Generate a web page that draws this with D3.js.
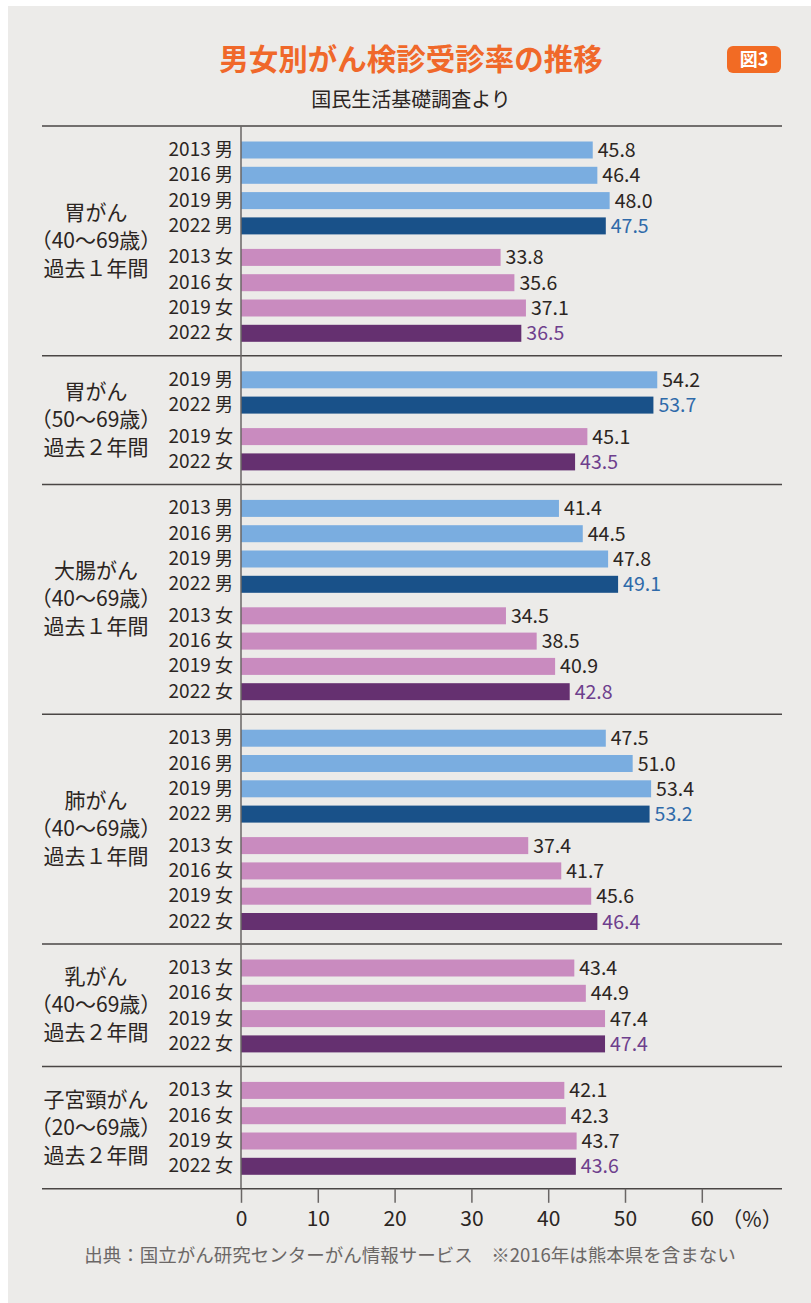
<!DOCTYPE html>
<html>
<head>
<meta charset="utf-8">
<script src="https://cdn.jsdelivr.net/npm/d3@7"></script>
<style>
  html, body { margin: 0; padding: 0; background: #fff; }
  svg { display: block; }
  text { font-family: "Noto Sans CJK JP", "Noto Sans", sans-serif; }
</style>
</head>
<body>
<div id="chart"></div>
<script>
(function() {
  // Data
  const groupNames = ["胃がん", "胃がん", "大腸がん", "肺がん", "乳がん", "子宮頸がん"];
  const groupAges = ["（40〜69歳）", "（50〜69歳）", "（40〜69歳）", "（40〜69歳）", "（40〜69歳）", "（20〜69歳）"];
  const groupPeriods = ["過去１年間", "過去２年間", "過去１年間", "過去１年間", "過去２年間", "過去２年間"];
  const groupYears = [
    [2013, 2016, 2019, 2022],
    [2019, 2022],
    [2013, 2016, 2019, 2022],
    [2013, 2016, 2019, 2022],
    [2013, 2016, 2019, 2022],
    [2013, 2016, 2019, 2022]
  ];
  const menValues = [
    [45.8, 46.4, 48.0, 47.5],
    [54.2, 53.7],
    [41.4, 44.5, 47.8, 49.1],
    [47.5, 51.0, 53.4, 53.2],
    [],
    []
  ];
  const womenValues = [
    [33.8, 35.6, 37.1, 36.5],
    [45.1, 43.5],
    [34.5, 38.5, 40.9, 42.8],
    [37.4, 41.7, 45.6, 46.4],
    [43.4, 44.9, 47.4, 47.4],
    [42.1, 42.3, 43.7, 43.6]
  ];
  const xTicks = [0, 10, 20, 30, 40, 50, 60];

  const width = 811;
  const height = 1303;
  const top = 126;
  const axisX0 = 241;
  const lineLeft = 42;
  const lineRight = 782;

  // layout in px units
  const padTop = 15.5, step = 25.3, barH = 17, sexStep = 31.5, padBottom = 14;

  const rows = [];
  const groups = [];
  let pos = 0;
  groupNames.forEach((name, gi) => {
    const start = pos;
    let cur = pos + padTop;
    let first = true;
    const addRows = (vals, sex) => {
      vals.forEach((v, i) => {
        if (!first) cur += (i === 0 ? sexStep : step);
        first = false;
        rows.push({
          y: cur, value: v, sex: sex,
          year: groupYears[gi][i],
          latest: groupYears[gi][i] === 2022
        });
      });
    };
    addRows(menValues[gi], "男");
    addRows(womenValues[gi], "女");
    pos = cur + barH + padBottom;
    groups.push({ start: start, end: pos, name: name, age: groupAges[gi], period: groupPeriods[gi] });
  });

  const y = d3.scaleLinear().domain([0, pos]).range([top, top + pos]);
  const x = d3.scaleLinear().domain([0, 60]).range([axisX0, axisX0 + 60 * 7.68]);
  const bottom = y(pos);

  const color = d => d.sex === "男"
    ? (d.latest ? "#195189" : "#7aade0")
    : (d.latest ? "#653070" : "#c98bbf");
  const labelColor = d => !d.latest ? "#2b2522" : (d.sex === "男" ? "#2f6aa9" : "#6e3f8d");

  const svg = d3.select("#chart").append("svg")
    .attr("width", width)
    .attr("height", height);

  // panel
  svg.append("rect")
    .attr("x", 8).attr("y", 6)
    .attr("width", width - 8).attr("height", height - 6)
    .attr("fill", "#ecebe9");

  // title
  svg.append("text")
    .attr("x", 411).attr("y", 70)
    .attr("text-anchor", "middle")
    .attr("font-size", "29.5px")
    .attr("font-weight", 700)
    .attr("fill", "#f0682a")
    .text("男女別がん検診受診率の推移");

  svg.append("rect")
    .attr("x", 727).attr("y", 46)
    .attr("width", 54).attr("height", 27)
    .attr("rx", 6)
    .attr("fill", "#f26b24");
  svg.append("text")
    .attr("x", 754).attr("y", 66)
    .attr("text-anchor", "middle")
    .attr("font-size", "18px")
    .attr("font-weight", 700)
    .attr("fill", "#fff")
    .text("図3");

  svg.append("text")
    .attr("x", 411).attr("y", 107)
    .attr("text-anchor", "middle")
    .attr("font-size", "20px")
    .attr("fill", "#2b2522")
    .text("国民生活基礎調査より");

  // separators
  svg.append("g")
    .selectAll("line")
    .data(groups)
    .join("line")
    .attr("x1", lineLeft).attr("x2", lineRight)
    .attr("y1", d => y(d.start)).attr("y2", d => y(d.start))
    .attr("stroke", "#4a4645")
    .attr("stroke-width", 1.5);

  // group labels
  svg.append("g")
    .selectAll("text")
    .data(groups)
    .join("text")
    .attr("text-anchor", "middle")
    .attr("font-size", "21px")
    .attr("fill", "#2b2522")
    .each(function(d) {
      const mid = (y(d.start) + y(d.end)) / 2;
      const t = d3.select(this);
      [d.name, d.age, d.period].forEach((s, i) => {
        t.append("tspan")
          .attr("x", 96)
          .attr("y", mid + (i - 1) * 28 + 7)
          .text(s);
      });
    });

  // bars
  svg.append("g")
    .selectAll("rect")
    .data(rows)
    .join("rect")
    .attr("x", x(0))
    .attr("y", d => y(d.y))
    .attr("width", d => x(d.value) - x(0))
    .attr("height", barH)
    .attr("fill", color);

  // row labels
  svg.append("g")
    .selectAll("text")
    .data(rows)
    .join("text")
    .attr("x", 233)
    .attr("y", d => y(d.y) + barH / 2 + 6)
    .attr("text-anchor", "end")
    .attr("font-size", "18px")
    .attr("fill", "#2b2522")
    .each(function(d) {
      const t = d3.select(this);
      t.append("tspan")
        .style("font-family", "'Liberation Sans Narrow', 'Noto Sans CJK JP'")
        .attr("font-size", "19px")
        .text(d.year + " ");
      t.append("tspan").text(d.sex);
    });

  // value labels
  svg.append("g")
    .selectAll("text")
    .data(rows)
    .join("text")
    .attr("x", d => x(d.value) + 5)
    .attr("y", d => y(d.y) + barH / 2 + 7)
    .attr("font-size", "19.5px")
    .attr("fill", labelColor)
    .text(d => d.value.toFixed(1));

  // vertical axis line
  svg.append("line")
    .attr("x1", x(0)).attr("x2", x(0))
    .attr("y1", top).attr("y2", bottom)
    .attr("stroke", "#6a6665")
    .attr("stroke-width", 1.5);

  // bottom axis
  svg.append("line")
    .attr("x1", lineLeft).attr("x2", lineRight)
    .attr("y1", bottom).attr("y2", bottom)
    .attr("stroke", "#4a4645")
    .attr("stroke-width", 1.5);

  const ax = svg.append("g")
    .attr("transform", `translate(0,${bottom})`)
    .call(d3.axisBottom(x).tickValues(xTicks).tickSize(14).tickPadding(8));
  ax.select(".domain").remove();
  ax.selectAll(".tick line").attr("stroke", "#6a6665").attr("stroke-width", 1.5);
  ax.selectAll(".tick text")
    .attr("font-size", "21px")
    .attr("font-family", "'Noto Sans CJK JP', sans-serif")
    .attr("fill", "#2b2522");

  svg.append("text")
    .attr("x", 752).attr("y", bottom + 38)
    .attr("text-anchor", "middle")
    .attr("font-size", "21px")
    .attr("fill", "#2b2522")
    .text("（%）");

  // footnote
  svg.append("text")
    .attr("x", 410).attr("y", 1262)
    .attr("text-anchor", "middle")
    .attr("font-size", "18.5px")
    .attr("fill", "#6b6766")
    .text("出典：国立がん研究センターがん情報サービス　※2016年は熊本県を含まない");
})();
</script>
</body>
</html>
